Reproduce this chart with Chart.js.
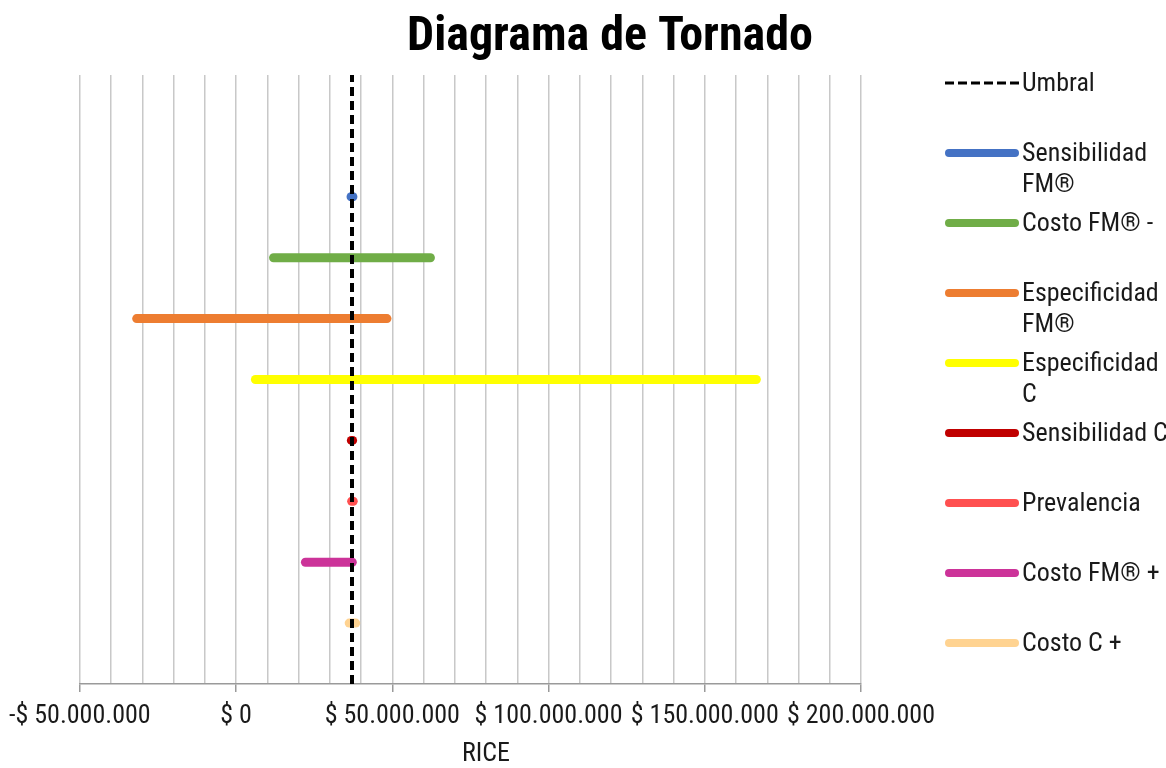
<!DOCTYPE html>
<html>
<head>
<meta charset="utf-8">
<script src="https://cdn.jsdelivr.net/npm/chart.js@4/dist/chart.umd.min.js"></script>
<style>
  html, body { margin: 0; padding: 0; background: #ffffff; }
  #wrap { width: 1166px; height: 768px; position: relative; }
</style>
</head>
<body>
<div id="wrap"><canvas id="tornado" width="1166" height="768"></canvas></div>
<script>
// Tornado diagram: RICE range of each factor against the threshold (Umbral)
const chartTitle = 'Diagrama de Tornado';
const axisTitle = 'RICE';
const thresholdLabel = 'Umbral';
const threshold = 37.1e6;

const factors = ['Sensibilidad FM®', 'Costo FM® -', 'Especificidad FM®', 'Especificidad C',
                 'Sensibilidad C', 'Prevalencia', 'Costo FM® +', 'Costo C +'];
const legendLines = [['Sensibilidad', 'FM®'], ['Costo FM® -'], ['Especificidad', 'FM®'], ['Especificidad', 'C'],
                     ['Sensibilidad C'], ['Prevalencia'], ['Costo FM® +'], ['Costo C +']];
const lowValues  = [36.8e6, 12.0e6, -31.8e6, 6.2e6, 36.9e6, 37.0e6, 22.2e6, 36.2e6];
const highValues = [37.4e6, 62.2e6, 48.3e6, 166.5e6, 37.3e6, 37.5e6, 37.2e6, 38.3e6];
const rowPositions = [8, 7, 6, 5, 4, 3, 2, 1];
const colors = ['#4472C4', '#70AD47', '#ED7D31', '#FFFF00', '#C00000', '#FF5050', '#CC3399', '#FFD391'];

const xMin = -50e6, xMax = 200e6, xGridStep = 10e6, xLabelStep = 50e6;
const yMin = 0, yMax = 10;

const FONT = '"Liberation Sans Narrow", "Arial Narrow", "Roboto Condensed", sans-serif';

function money(v) {
  const abs = Math.round(Math.abs(v)).toString().replace(/\B(?=(\d{3})+(?!\d))/g, '.');
  return (v < 0 ? '-' : '') + '$ ' + abs;
}
function isLabelTick(v) {
  return Math.abs(Math.round(v / xLabelStep) * xLabelStep - v) < 1;
}

const datasets = [{
  label: thresholdLabel,
  data: [{ x: threshold, y: yMin }, { x: threshold, y: yMax }],
  borderColor: '#000000',
  borderWidth: 4,
  borderDash: [9, 5],
  pointRadius: 0,
  legendLines: [thresholdLabel]
}];
factors.forEach((name, i) => {
  datasets.push({
    label: name,
    data: [{ x: lowValues[i], y: rowPositions[i] }, { x: highValues[i], y: rowPositions[i] }],
    borderColor: colors[i],
    borderWidth: 9,
    borderCapStyle: 'round',
    pointRadius: 0,
    legendLines: legendLines[i]
  });
});

// Title, axis title and legend drawn onto the canvas
const decorations = {
  id: 'decorations',
  afterDraw(chart) {
    const ctx = chart.ctx;
    ctx.save();
    ctx.fillStyle = '#000000';
    ctx.textAlign = 'center';
    ctx.textBaseline = 'alphabetic';
    ctx.font = 'bold 48px ' + FONT;
    ctx.fillText(chartTitle, 610, 50);

    ctx.fillStyle = '#1a1a1a';
    ctx.font = '26px ' + FONT;
    ctx.fillText(axisTitle, 486, 761);

    // legend
    const x0 = 949, x1 = 1015, tx = 1022, top = 83, step = 70, lineH = 31;
    ctx.textAlign = 'left';
    ctx.textBaseline = 'middle';
    chart.data.datasets.forEach((ds, i) => {
      const y = top + i * step;
      ctx.beginPath();
      ctx.strokeStyle = ds.borderColor;
      if (ds.borderDash) {
        ctx.lineWidth = 3;
        ctx.lineCap = 'butt';
        ctx.setLineDash([9, 4]);
        ctx.moveTo(945, y);
        ctx.lineTo(1019, y);
      } else {
        ctx.lineWidth = 8;
        ctx.lineCap = 'round';
        ctx.setLineDash([]);
        ctx.moveTo(x0, y);
        ctx.lineTo(x1, y);
      }
      ctx.stroke();
      ctx.setLineDash([]);
      ctx.fillStyle = '#1a1a1a';
      ds.legendLines.forEach((t, k) => ctx.fillText(t, tx, y + 1 + k * lineH));
    });
    ctx.restore();
  }
};

new Chart(document.getElementById('tornado'), {
  type: 'line',
  data: { datasets },
  options: {
    responsive: false,
    animation: false,
    events: [],
    layout: { padding: { top: 75, left: 78, right: 305, bottom: 0 } },
    plugins: {
      legend: { display: false },
      title: { display: false },
      tooltip: { enabled: false }
    },
    scales: {
      x: {
        type: 'linear',
        min: xMin,
        max: xMax,
        afterFit(scale) { scale.height = 84; },
        border: { display: true, color: '#9a9a9a', width: 1.5 },
        grid: {
          color: '#c8c8c8',
          lineWidth: 1.5,
          drawTicks: true,
          tickLength: 8,
          tickColor: (c) => isLabelTick(c.tick.value) ? '#9a9a9a' : 'rgba(0,0,0,0)'
        },
        ticks: {
          stepSize: xGridStep,
          autoSkip: false,
          maxRotation: 0,
          padding: 9,
          color: '#1a1a1a',
          font: { family: FONT, size: 26 },
          callback: (v) => isLabelTick(v) ? money(v) : ''
        }
      },
      y: {
        type: 'linear',
        min: yMin,
        max: yMax,
        display: false
      }
    }
  },
  plugins: [decorations]
});
</script>
</body>
</html>
